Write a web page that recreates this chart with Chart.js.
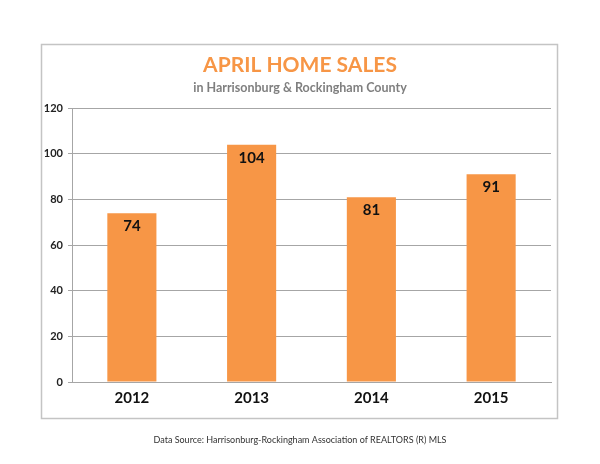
<!DOCTYPE html>
<html>
<head>
<meta charset="utf-8">
<script src="https://cdn.jsdelivr.net/npm/chart.js@4/dist/chart.umd.min.js"></script>
<style>
  html, body { margin: 0; padding: 0; background: #ffffff; }
  #wrap { width: 600px; height: 464px; position: relative; }
</style>
</head>
<body>
<div id="wrap"><canvas id="c" width="600" height="464"></canvas></div>
<script>
const categories = ['2012', '2013', '2014', '2015'];
const sales = [74, 104, 81, 91];
const yTicks = [0, 20, 40, 60, 80, 100, 120];
const titleText = 'APRIL HOME SALES';
const subtitleText = 'in Harrisonburg & Rockingham County';
const footerText = 'Data Source: Harrisonburg-Rockingham Association of REALTORS (R) MLS';

const FONT = 'Lato, "Open Sans", "Liberation Sans", sans-serif';

const framePlugin = {
  id: 'frame',
  beforeDraw(chart) {
    const ctx = chart.ctx;
    ctx.save();
    ctx.fillStyle = '#ffffff';
    ctx.fillRect(0, 0, chart.width, chart.height);
    ctx.strokeStyle = '#c4c4c4';
    ctx.lineWidth = 1.5;
    ctx.strokeRect(41.5, 44.5, 516, 374);
    ctx.restore();
  },
  afterDraw(chart) {
    const ctx = chart.ctx;
    ctx.save();
    ctx.font = '9px ' + FONT;
    ctx.fillStyle = '#333333';
    ctx.textAlign = 'center';
    ctx.textBaseline = 'middle';
    ctx.fillText(footerText, 300, 440);
    ctx.restore();
  }
};

const labelPlugin = {
  id: 'barLabels',
  afterDatasetsDraw(chart) {
    const ctx = chart.ctx;
    const meta = chart.getDatasetMeta(0);
    ctx.save();
    ctx.font = 'bold 15px ' + FONT;
    ctx.fillStyle = '#111111';
    ctx.textAlign = 'center';
    ctx.textBaseline = 'middle';
    meta.data.forEach((bar, i) => {
      ctx.fillText(String(sales[i]), bar.x, bar.y + 13);
    });
    ctx.restore();
  }
};

new Chart(document.getElementById('c'), {
  type: 'bar',
  data: {
    labels: categories,
    datasets: [{
      data: sales,
      backgroundColor: '#F79646',
      borderWidth: 0,
      barPercentage: 0.82,
      categoryPercentage: 0.5
    }]
  },
  options: {
    responsive: false,
    animation: false,
    devicePixelRatio: 1,
    layout: { padding: { left: 0, right: 0, top: 0, bottom: 0 } },
    plugins: {
      legend: { display: false },
      tooltip: { enabled: false },
      title: {
        display: true,
        text: titleText,
        color: '#F79646',
        font: { family: FONT, size: 21, weight: 'bold' },
        padding: { top: 53, bottom: 0 }
      },
      subtitle: {
        display: true,
        text: subtitleText,
        color: '#7f7f7f',
        font: { family: FONT, size: 12.5, weight: 'bold' },
        padding: { top: 2, bottom: 13 }
      }
    },
    scales: {
      x: {
        grid: { display: false, drawTicks: false },
        border: { display: true, color: '#a6a6a6', width: 1 },
        ticks: {
          color: '#111111',
          font: { family: FONT, size: 15, weight: 'bold' },
          padding: 7
        },
        afterFit(s) { s.height = 82; }
      },
      y: {
        min: 0,
        max: 120,
        afterBuildTicks(s) { s.ticks = yTicks.map(v => ({ value: v })); },
        grid: { color: '#a6a6a6', tickLength: 4, lineWidth: 1 },
        border: { display: true, color: '#a6a6a6', width: 1 },
        ticks: {
          color: '#222222',
          font: { family: FONT, size: 11, weight: 'bold' },
          padding: 5
        },
        afterFit(s) { s.width = 72; }
      },
      spacer: {
        type: 'linear',
        position: 'right',
        display: true,
        grid: { display: false, drawTicks: false },
        border: { display: false },
        ticks: { display: false },
        afterFit(s) { s.width = 49; }
      }
    }
  },
  plugins: [framePlugin, labelPlugin]
});
</script>
</body>
</html>
